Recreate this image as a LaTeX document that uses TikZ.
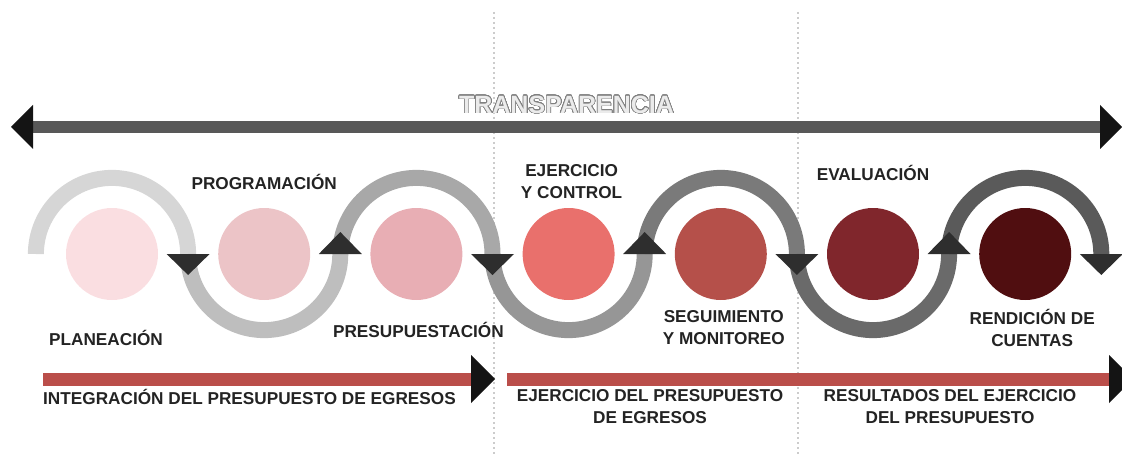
\documentclass[tikz,border=0pt]{standalone}
\usepackage{fontspec}
\setmainfont{Liberation Sans}
\usepackage{contour}
\usetikzlibrary{positioning, arrows.meta}

\definecolor{stA}{RGB}{250,222,225}
\definecolor{stB}{RGB}{236,196,199}
\definecolor{stC}{RGB}{232,174,180}
\definecolor{stD}{RGB}{233,112,108}
\definecolor{stE}{RGB}{181,80,74}
\definecolor{stF}{RGB}{128,38,44}
\definecolor{stG}{RGB}{80,14,16}
\definecolor{lpA}{RGB}{214,214,214}
\definecolor{lpB}{RGB}{190,190,190}
\definecolor{lpC}{RGB}{168,168,168}
\definecolor{lpD}{RGB}{150,150,150}
\definecolor{lpE}{RGB}{122,122,122}
\definecolor{lpF}{RGB}{106,106,106}
\definecolor{lpG}{RGB}{90,90,90}
\definecolor{barred}{RGB}{186,78,74}
\definecolor{bargray}{RGB}{88,88,88}
\definecolor{ink}{RGB}{35,35,35}
\contourlength{0.65pt}
\contournumber{32}

\begin{document}
\begin{tikzpicture}[x=1pt, y=1pt, node distance=152.2pt, on grid,
    stage/.style={circle, minimum size=92pt, inner sep=0pt},
    lbl/.style={font=\fontsize{17.2}{22}\selectfont\bfseries, text=ink, align=center, inner sep=0pt},
    loopline/.style={line width=16pt},
    headtri/.style={fill=black!82},
    topbar/.style={line width=12.7pt, draw=bargray,
        {Triangle[length=22pt, width=44pt, line width=0pt, color=black!92]}-{Triangle[length=22pt, width=44pt, line width=0pt, color=black!92]}},
    phasebar/.style={line width=13pt, draw=barred,
        -{Triangle[length=24pt, width=48pt, line width=0pt, color=black!92]}},
    divider/.style={gray!40, line width=1.6pt, dash pattern=on 1.6pt off 3.4pt}]
    \useasboundingbox (0,0) rectangle (1122,456);

    % Dividers between phases
    \coordinate (da) at (494,444);
    \coordinate (db) at (494,0);
    \coordinate (dc) at (798,444);
    \coordinate (dd) at (798,0);
    \draw[divider] (da) -- (db);
    \draw[divider] (dc) -- (dd);

    % Transparency bar
    \coordinate (tleft) at (11,329);
    \coordinate (tright) at (1122,329);
    \draw[topbar] (tleft) -- (tright);
    \node[font=\fontsize{25}{30}\selectfont\bfseries, text=white!92!black, inner sep=0pt] (trans) at (566.5,351)
        {\contour{black!50}{TRANSPARENCIA}};

    % Stages
    \node[stage, fill=stA] (plan) at (112,202) {};
    \node[stage, fill=stB, right=of plan] (prog) {};
    \node[stage, fill=stC, right=of prog] (pres) {};
    \node[stage, fill=stD, right=of pres] (ejer) {};
    \node[stage, fill=stE, right=of ejer] (segu) {};
    \node[stage, fill=stF, right=of segu] (eval) {};
    \node[stage, fill=stG, right=of eval] (rend) {};

    % Loops around the stages
    \foreach \s/\c/\e in {plan/lpA/0, prog/lpB/360, pres/lpC/0, ejer/lpD/360,
                          segu/lpE/0, eval/lpF/360, rend/lpG/0}
        \draw[loopline, \c] ([xshift=-76.1pt]\s.center) arc[start angle=180, end angle=\e, radius=76.1pt];

    % Heads at the joints
    \foreach \s/\d in {plan/-21, prog/22, pres/-21, ejer/22, segu/-21, eval/22, rend/-21}
        \fill[headtri] ([xshift=76.1pt]\s.center) ++(-21.5,0) -- ++(43,0) -- ++(-21.5,\d) -- cycle;

    % Stage labels
    \node[lbl, below=84pt of plan, xshift=-6pt] (lplan) {PLANEACIÓN};
    \node[lbl, above=72pt of prog] (lprog) {PROGRAMACIÓN};
    \node[lbl, below=76pt of pres, xshift=2pt] (lpres) {PRESUPUESTACIÓN};
    \node[lbl, above=72pt of ejer, xshift=3pt] (lejer) {EJERCICIO\\Y CONTROL};
    \node[lbl, below=74pt of segu, xshift=3pt] (lsegu) {SEGUIMIENTO\\Y MONITOREO};
    \node[lbl, above=81pt of eval] (leval) {EVALUACIÓN};
    \node[lbl, below=74pt of rend, xshift=7pt] (lrend) {RENDICIÓN DE\\CUENTAS};

    % Phases
    \coordinate (pa) at (43,77);
    \coordinate (pb) at (495,77);
    \coordinate (pc) at (507,77);
    \coordinate (pd) at (1133,77);
    \draw[phasebar] (pa) -- (pb);
    \draw[phasebar] (pc) -- (pd);
    \node[lbl, anchor=west] (lint) at (43,59) {INTEGRACIÓN DEL PRESUPUESTO DE EGRESOS};
    \node[lbl] (lejp) at (650,49) {EJERCICIO DEL PRESUPUESTO\\DE EGRESOS};
    \node[lbl] (lres) at (950,49) {RESULTADOS DEL EJERCICIO\\DEL PRESUPUESTO};
\end{tikzpicture}
\end{document}
